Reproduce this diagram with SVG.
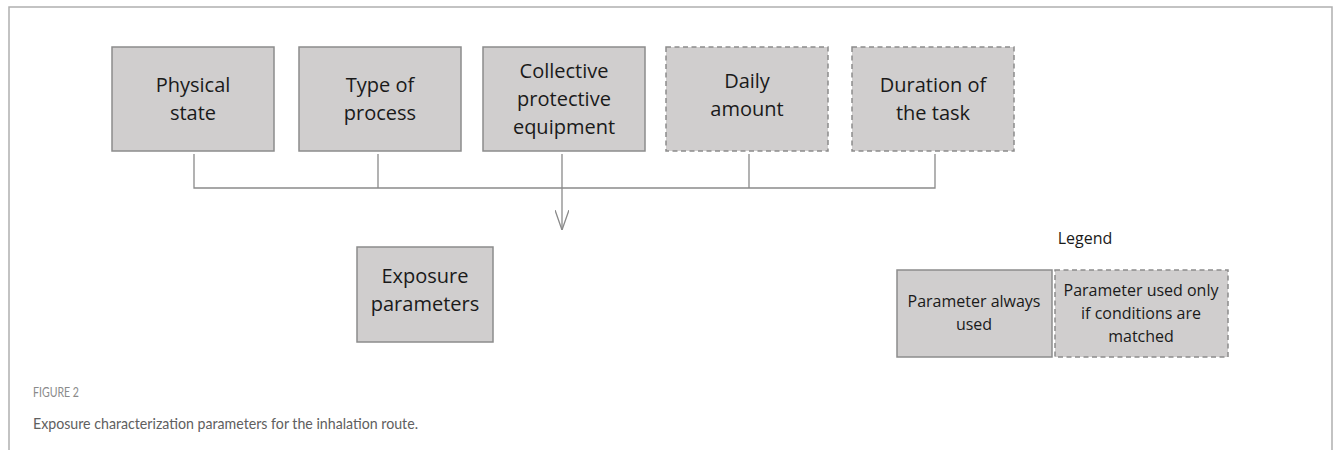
<svg xmlns="http://www.w3.org/2000/svg" width="1333" height="450" viewBox="0 0 1333 450">
<defs>
<style>
.box{fill:#d0cece;stroke:#8c8c8c;stroke-width:1.5}
.dash{stroke-dasharray:5 3.5}
.t{font-family:"Open Sans","Liberation Sans",sans-serif;font-size:20px;fill:#1a1a1a;text-anchor:middle}
.s{font-size:16px}
.c{stroke:#8a8a8a;stroke-width:1.3;fill:none}
.frame{stroke:#b0b0b0;stroke-width:1.5;fill:none}
</style>
<marker id="arr" viewBox="0 0 20 14" refX="20" refY="7" markerWidth="20" markerHeight="14" markerUnits="userSpaceOnUse" orient="auto">
<path d="M0,0 L20,7 L0,14" fill="none" stroke="#8a8a8a" stroke-width="1.3"/>
</marker>
</defs>
<rect width="1333" height="450" fill="#ffffff"/>
<path class="frame" d="M9,450 V7 H1332 V450"/>
<g id="physical-state"><rect class="box" x="112" y="47" width="162" height="104"/><text class="t" x="193" y="92">Physical</text><text class="t" x="193" y="120">state</text></g>
<g id="type-of-process"><rect class="box" x="299" y="47" width="162" height="104"/><text class="t" x="380" y="92">Type of</text><text class="t" x="380" y="120">process</text></g>
<g id="collective"><rect class="box" x="483" y="47" width="162" height="104"/><text class="t" x="564" y="78">Collective</text><text class="t" x="564" y="106">protective</text><text class="t" x="564" y="134">equipment</text></g>
<g id="daily-amount"><rect class="box dash" x="666" y="47" width="162" height="104"/><text class="t" x="747" y="88">Daily</text><text class="t" x="747" y="116">amount</text></g>
<g id="duration"><rect class="box dash" x="852" y="47" width="162" height="104"/><text class="t" x="933" y="92">Duration of</text><text class="t" x="933" y="120">the task</text></g>
<g id="exposure-parameters"><rect class="box" x="357" y="247" width="136" height="95"/><text class="t" x="425" y="283">Exposure</text><text class="t" x="425" y="311">parameters</text></g>
<g id="connectors">
<path class="c" d="M194,154 V188 H935 V154 M378,154 V188 M562,154 V188 M749,154 V188"/>
<path class="c" d="M562,188 V230" marker-end="url(#arr)"/>
</g>
<g id="legend">
<text class="t s" x="1085" y="244">Legend</text>
<rect class="box" x="897" y="270" width="155" height="87"/>
<text class="t s" x="974" y="307">Parameter always</text><text class="t s" x="974" y="330">used</text>
<rect class="box dash" x="1055" y="270" width="173" height="87"/>
<text class="t s" x="1141" y="296">Parameter used only</text><text class="t s" x="1141" y="319">if conditions are</text><text class="t s" x="1141" y="342">matched</text>
</g>
<g id="caption">
<text x="33" y="397" font-family="Lato,'Open Sans',sans-serif" font-size="12.5" fill="#8a8a8a" textLength="46" lengthAdjust="spacingAndGlyphs">FIGURE 2</text>
<text x="33" y="429" font-family="Lato,'Open Sans',sans-serif" font-size="16" fill="#606060" textLength="385" lengthAdjust="spacingAndGlyphs">Exposure characterization parameters for the inhalation route.</text>
</g>
</svg>
